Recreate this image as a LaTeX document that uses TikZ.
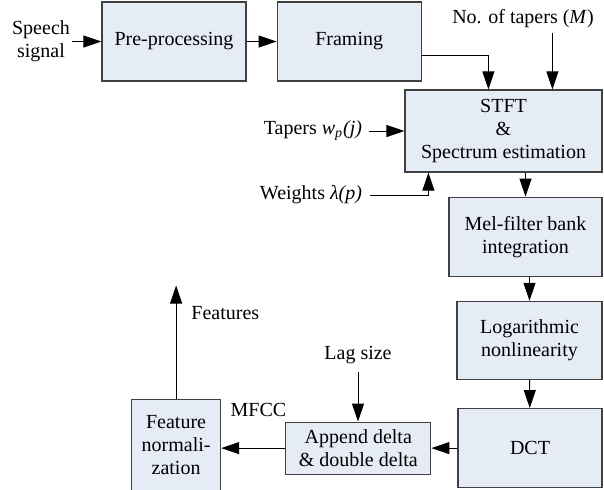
\documentclass[tikz,border=0pt]{standalone}
\usepackage{fontspec}
\setmainfont{Liberation Serif}
\usetikzlibrary{arrows.meta, positioning}
\definecolor{boxblue}{RGB}{230, 236, 246}
\definecolor{boxedge}{RGB}{64, 64, 64}

\begin{document}
\begin{tikzpicture}[
    x=0.5pt, y=0.5pt,
    font=\rmfamily\fontsize{10}{11.5}\selectfont,
    box/.style={rectangle, draw=boxedge, fill=boxblue, line width=0.6pt,
                align=center, inner sep=0pt},
    lbl/.style={inner sep=1pt, align=center},
    arr/.style={-{Triangle[length=9pt, width=6pt]}, line width=0.5pt}
  ]
  \useasboundingbox (0,0) rectangle (604,-489);

  \node[box, minimum width=72pt, minimum height=39.5pt] (pre) at (174,-41.5) {Pre-processing};
  \node[box, minimum width=72pt, minimum height=39.5pt, right=15pt of pre] (frm) {Framing};
  \node[box, minimum width=98.5pt, minimum height=41pt] (stft) at (503.5,-131)
    {STFT\\\&\\Spectrum estimation};
  \node[box, minimum width=76.5pt, minimum height=39.5pt,
        below=12pt of stft.south east, anchor=north east] (mel) {Mel-filter bank\\integration};
  \node[box, minimum width=72.5pt, minimum height=39pt,
        below=12pt of mel.south east, anchor=north east] (log) {Logarithmic\\nonlinearity};
  \node[box, minimum width=72pt, minimum height=39.5pt,
        below=14pt of log.south east, anchor=north east] (dct) {DCT};
  \node[box, minimum width=72.5pt, minimum height=26pt, left=13pt of dct] (app)
    {Append delta\\\& double delta};
  \node[box, minimum width=44.5pt, minimum height=46pt, left=32pt of app, yshift=1.5pt] (norm)
    {Feature\\normali-\\zation};

  % inputs and labels
  \node[lbl] (sig) at (41,-41.5) {Speech\\signal};
  \node[lbl] (ntap) at (523,-19) {No. of tapers (\textit{M})};
  \node[lbl] (tap) at (313,-131) {Tapers \textit{w}\textsubscript{\textit{p}}\textit{(j)}};
  \node[lbl] (wt) at (311,-195) {Weights \textit{λ(p)}};
  \node[lbl] (lag) at (358,-355) {Lag size};
  \node[lbl] (mfcc) at (258.5,-410) {MFCC};
  \node[lbl, anchor=west] (feat) at (189,-313) {Features};

  \coordinate (fin) at ([xshift=42pt]stft.north west);
  \coordinate (min) at ([xshift=74pt]stft.north west);
  \coordinate (win) at ([xshift=12pt]stft.south west);
  \coordinate (fout) at ([yshift=56.5pt]norm.north);

  \draw[arr] (sig) -- (pre);
  \draw[arr] (pre) -- (frm);
  \draw[arr] ([yshift=-6.75pt]frm.east) -| (fin);
  \draw[arr, shorten <=1pt] (min |- ntap.south) -- (min);
  \draw[arr, shorten <=2pt] (tap) -- (stft);
  \draw[arr, shorten <=3pt] (wt.east) -| (win);
  \draw[arr] (mel.north |- stft.south) -- (mel.north);
  \draw[arr] (log.north |- mel.south) -- (log.north);
  \draw[arr] (log) -- (dct);
  \draw[arr] (dct) -- (app);
  \draw[arr] (app.west) -- (app.west -| norm.east);
  \draw[arr, shorten <=3pt] (lag.south) -- (lag.south |- app.north);
  \draw[arr] (norm.north) -- (fout);
\end{tikzpicture}
\end{document}
